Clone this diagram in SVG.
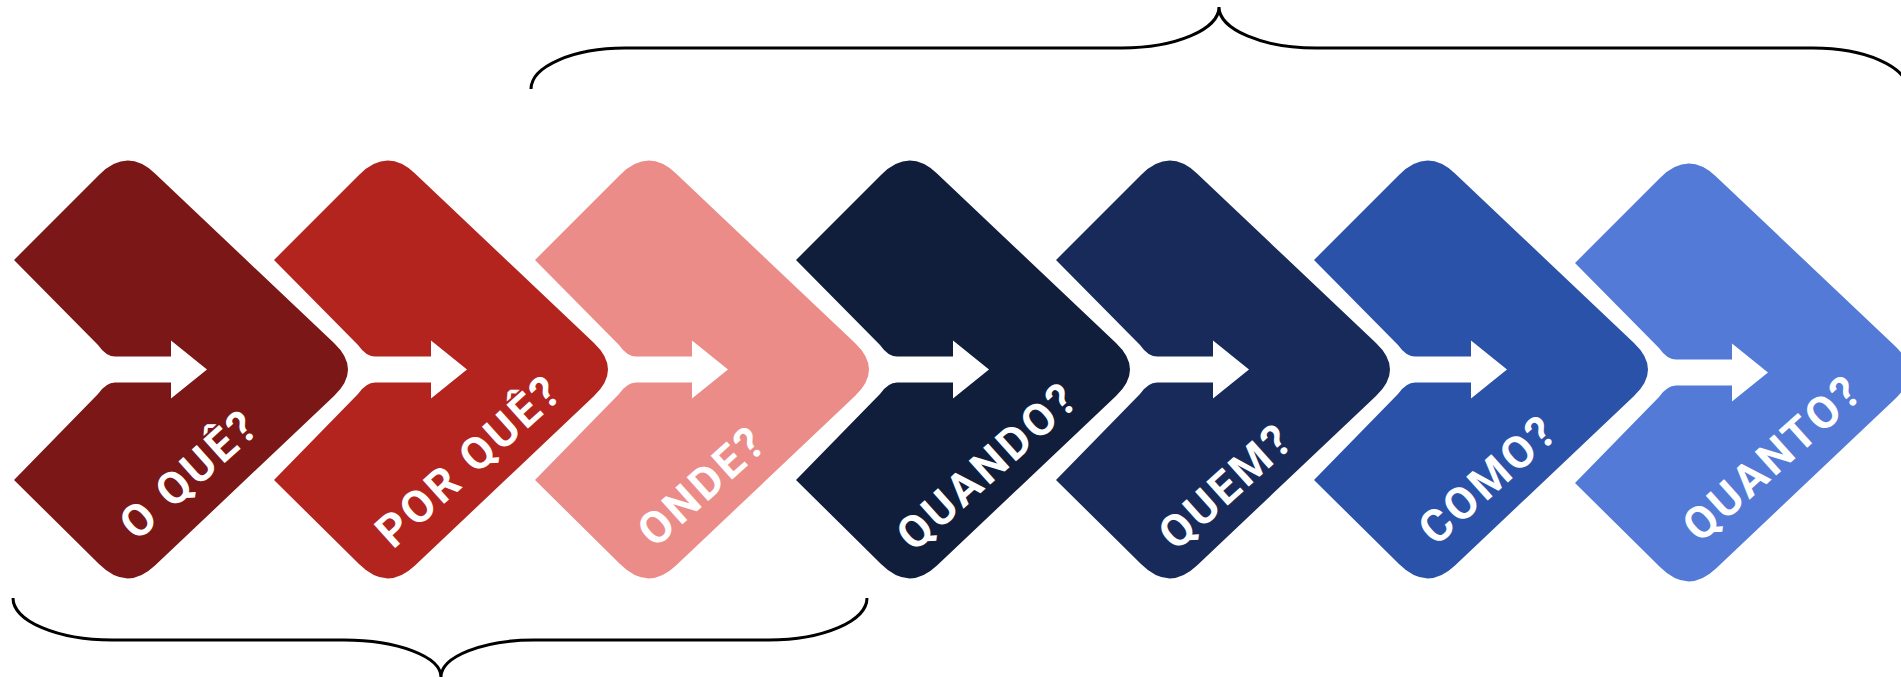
<svg xmlns="http://www.w3.org/2000/svg" xmlns:xlink="http://www.w3.org/1999/xlink" width="1901" height="677" viewBox="0 0 1901 677">
  <style>
    .lbl { font-family: Roboto, "Liberation Sans", sans-serif; font-weight: 700; font-size: 45px; fill: #ffffff; letter-spacing: 3px; }
    .brace { fill: none; stroke: #000000; stroke-width: 3; }
  </style>
  <defs>
    <!-- chevron with notch and white arrow cut, top vertex at x=0 -->
    <path id="chev" d="M -113 260 L -28 175 Q 0 147 28 173.5 L 207 343 Q 235 369.5 207 396 L 28 565.5 Q 0 592 -28 564 L -113 480 L -29 394 Q -21 382.5 -12 382.5 L 44 382.5 L 44 398.5 L 80 369.5 L 44 340.5 L 44 356.5 L -12 356.5 Q -21 356.5 -29 345 Z"/>
  </defs>
  <rect width="1901" height="677" fill="#ffffff"/>

  <g id="braces">
    <path class="brace" d="M 531 89 A 94 41 0 0 1 625 48 L 1122 48 A 97 41 0 0 0 1219 7 A 97 41 0 0 0 1316 48 L 1813 48 A 94 41 0 0 1 1907 89"/>
    <path class="brace" d="M 13 598 A 99 42 0 0 0 112 640 L 344 640 A 97 37 0 0 1 441 677 A 93 37 0 0 1 534 640 L 769 640 A 98 42 0 0 0 867 598"/>
  </g>

  <g id="node-oque">
    <use xlink:href="#chev" transform="translate(127,0)" fill="#7b1716"/>
    <text class="lbl" transform="translate(137,542) rotate(-42)">O QUÊ?</text>
  </g>
  <g id="node-porque">
    <use xlink:href="#chev" transform="translate(387,0)" fill="#b3241f"/>
    <text class="lbl" transform="translate(393,550) rotate(-42)">POR QUÊ?</text>
  </g>
  <g id="node-onde">
    <use xlink:href="#chev" transform="translate(648,0)" fill="#eb8c88"/>
    <text class="lbl" transform="translate(655,549) rotate(-42)">ONDE?</text>
  </g>
  <g id="node-quando">
    <use xlink:href="#chev" transform="translate(909,0)" fill="#101e3c"/>
    <text class="lbl" transform="translate(914,553) rotate(-42)">QUANDO?</text>
  </g>
  <g id="node-quem">
    <use xlink:href="#chev" transform="translate(1169,0)" fill="#182a5a"/>
    <text class="lbl" transform="translate(1176,552) rotate(-42)">QUEM?</text>
  </g>
  <g id="node-como">
    <use xlink:href="#chev" transform="translate(1427,0)" fill="#2a52a8"/>
    <text class="lbl" transform="translate(1436,547) rotate(-42)">COMO?</text>
  </g>
  <g id="node-quanto">
    <use xlink:href="#chev" transform="translate(1688,3)" fill="#527ad6"/>
    <text class="lbl" transform="translate(1700,544) rotate(-42)">QUANTO?</text>
  </g>
</svg>
